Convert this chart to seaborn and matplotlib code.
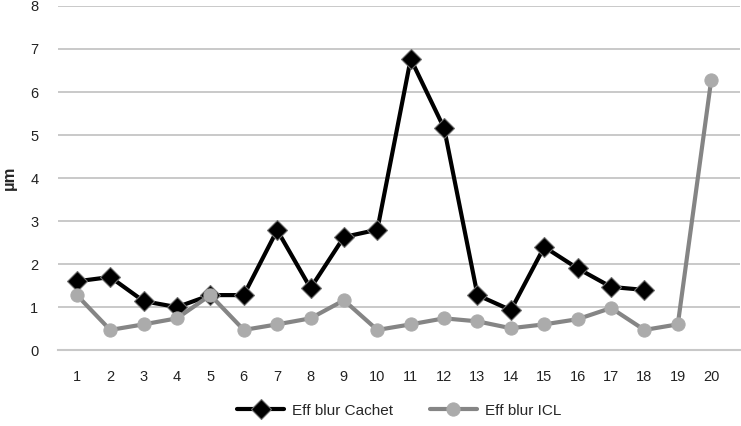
import matplotlib
matplotlib.use("Agg")
import matplotlib.pyplot as plt
import numpy as np
import pandas as pd
import seaborn as sns

sns.set_theme(style='white')
plt.rcParams['font.family'] = ['Liberation Sans', 'DejaVu Sans']

# data
samples = list(range(1, 21))
cachet = [1.6, 1.7, 1.14, 1.0, 1.28, 1.28, 2.79, 1.44, 2.63, 2.8,
          6.77, 5.16, 1.28, 0.93, 2.4, 1.9, 1.47, 1.4, np.nan, np.nan]
icl = [1.28, 0.47, 0.6, 0.74, 1.28, 0.47, 0.6, 0.74, 1.16, 0.47,
       0.6, 0.74, 0.67, 0.51, 0.6, 0.72, 0.98, 0.47, 0.6, 6.28]
y_ticks = [0, 1, 2, 3, 4, 5, 6, 7, 8]

df = pd.DataFrame({'sample': samples, 'Eff blur Cachet': cachet, 'Eff blur ICL': icl})

fig = plt.figure(figsize=(7.41, 4.26), dpi=100)
ax = fig.add_axes([0.078, 0.178, 0.921, 0.808])

ax.set_axisbelow(True)
ax.yaxis.grid(True, color='#c0c0c0', linewidth=1.2)

sns.lineplot(data=df, x='sample', y='Eff blur Cachet', ax=ax, color='black',
             linewidth=3, marker='D', markersize=10.5, markerfacecolor='black',
             markeredgecolor='#707070', markeredgewidth=0.8, label='Eff blur Cachet')
sns.lineplot(data=df, x='sample', y='Eff blur ICL', ax=ax, color='#858585',
             linewidth=3, marker='o', markersize=9.5, markerfacecolor='#ababab',
             markeredgecolor='#ababab', label='Eff blur ICL')

ax.set_xlim(0.43, 20.87)
ax.set_ylim(0, 8)
ax.set_xticks(samples)
ax.set_yticks(y_ticks)
ax.tick_params(axis='both', labelsize=10.5, colors='#222222', length=0)
ax.tick_params(axis='x', pad=14)
ax.tick_params(axis='y', pad=14)
ax.set_xlabel('')
ax.set_ylabel('µm', fontsize=12, fontweight='bold')
ax.yaxis.set_label_coords(-0.06, 0.5)
for s in ['top', 'right', 'left']:
    ax.spines[s].set_visible(False)
ax.spines['bottom'].set_color('#c8c8c8')
ax.spines['bottom'].set_linewidth(1.5)

ax.legend(loc='upper center', bbox_to_anchor=(0.5, -0.115), ncol=2, frameon=False,
          fontsize=11, handlelength=3.1, columnspacing=2.4, handletextpad=0.5)

plt.savefig('out.png', dpi=100)
plt.close()
